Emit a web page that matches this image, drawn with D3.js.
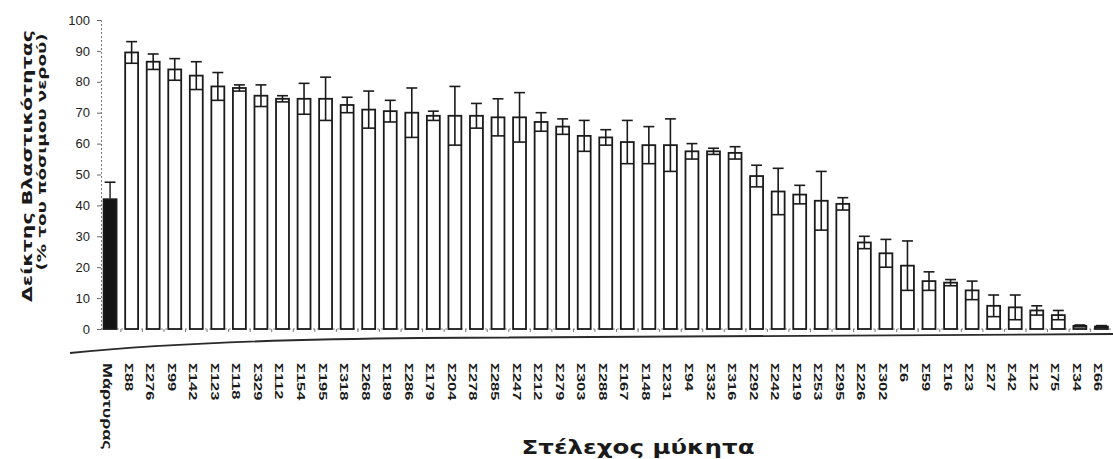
<!DOCTYPE html>
<html>
<head>
<meta charset="utf-8">
<script src="https://cdn.jsdelivr.net/npm/d3@7"></script>
<style>
  html, body { margin: 0; padding: 0; background: #ffffff; }
  svg { display: block; }
</style>
</head>
<body>
<svg id="chart" width="1113" height="459"></svg>
<script>
// Strains (control first), mean germination index and its error
const strains = ["Μάρτυρας","Σ88","Σ276","Σ99","Σ142","Σ123","Σ118","Σ329","Σ112","Σ154","Σ195",
  "Σ318","Σ268","Σ189","Σ286","Σ179","Σ204","Σ278","Σ285","Σ247","Σ212","Σ279","Σ303","Σ288",
  "Σ167","Σ148","Σ231","Σ94","Σ332","Σ316","Σ292","Σ242","Σ219","Σ253","Σ295","Σ226","Σ302",
  "Σ6","Σ59","Σ16","Σ23","Σ27","Σ42","Σ12","Σ75","Σ34","Σ66"];
const meanValues = [42,89.5,86.5,84,82,78.5,78,75.5,74.5,74.5,74.5,
  72.5,71,70.5,70,69,69,69,68.5,68.5,67,65.5,62.5,62,
  60.5,59.5,59.5,57.5,57.5,57,49.5,44.5,43.5,41.5,40.5,28,24.5,
  20.5,15.5,15,12.5,7.5,7,6,4.5,1,0.8];
const errorValues = [5.5,3.5,2.5,3.5,4.5,4.5,1,3.5,1,5,7,
  2.5,6,3.5,8,1.5,9.5,4,6,8,3,2.5,5,2.5,
  7,6,8.5,2.5,1,2,3.5,7.5,3,9.5,2,2,4.5,
  8,3,1,3,3.5,4,1.5,1.5,0.3,0.3];
const yTicks = [0,10,20,30,40,50,60,70,80,90,100];

const svg = d3.select("#chart");
const ink = "#1b1b1b";

const x = d3.scaleBand().domain(strains).range([95, 1116.5]).padding(0.4);
const y = d3.scaleLinear().domain([0, 100]).range([329, 20]);

const rows = strains.map((s, i) => ({ name: s, mean: meanValues[i], err: errorValues[i], control: i === 0 }));

// y axis
const yAxis = d3.axisLeft(y).tickValues(yTicks).tickSize(4).tickPadding(7);
const gy = svg.append("g").attr("transform", "translate(101,0)").call(yAxis);
gy.select(".domain").attr("stroke", "#777").attr("stroke-dasharray", "2,2");
gy.selectAll(".tick line").attr("stroke", "#666");
gy.selectAll(".tick text").attr("fill", "#222")
  .style("font-family", "'Liberation Sans', Arial, sans-serif").style("font-size", "13px");

// x axis at the zero line with ticks between bars
const bandEdges = strains.slice(1).map(s => x(s) - x.step() * x.paddingInner() / 2);
svg.append("line").attr("x1", 101).attr("x2", 1113).attr("y1", y(0)).attr("y2", y(0))
  .attr("stroke", "#888").attr("stroke-dasharray", "2,2");
svg.append("g").selectAll("line").data(bandEdges).join("line")
  .attr("x1", d => d).attr("x2", d => d).attr("y1", y(0)).attr("y2", y(0) + 3)
  .attr("stroke", "#777").attr("stroke-width", 1);

// bars
const bars = svg.append("g");
bars.selectAll("rect").data(rows).join("rect")
  .attr("x", d => x(d.name))
  .attr("width", x.bandwidth())
  .attr("y", d => y(d.mean))
  .attr("height", d => y(0) - y(d.mean))
  .attr("fill", d => d.control ? "#141414" : "#ffffff")
  .attr("stroke", ink).attr("stroke-width", 1.8);

// error bars: stem, top cap, and a line at mean - error inside the bar
const err = svg.append("g").attr("stroke", ink).attr("stroke-width", 1.6);
err.selectAll("line.stem").data(rows).join("line").attr("class", "stem")
  .attr("x1", d => x(d.name) + x.bandwidth() / 2).attr("x2", d => x(d.name) + x.bandwidth() / 2)
  .attr("y1", d => d.control ? y(d.mean) : y(Math.max(0, d.mean - d.err)))
  .attr("y2", d => y(d.mean + d.err))
  .attr("stroke", d => d.control ? "#333" : ink);
err.selectAll("line.cap").data(rows).join("line").attr("class", "cap")
  .attr("x1", d => x(d.name) + 1).attr("x2", d => x(d.name) + x.bandwidth() - 1)
  .attr("y1", d => y(d.mean + d.err)).attr("y2", d => y(d.mean + d.err));
err.selectAll("line.low").data(rows.filter(d => !d.control)).join("line").attr("class", "low")
  .attr("x1", d => x(d.name)).attr("x2", d => x(d.name) + x.bandwidth())
  .attr("y1", d => y(Math.max(0, d.mean - d.err))).attr("y2", d => y(Math.max(0, d.mean - d.err)));

// lower rule under the axis
svg.append("path")
  .attr("d", "M70,353 Q200,340 420,338 L1113,334")
  .attr("fill", "none").attr("stroke", "#2a2a2a").attr("stroke-width", 1.8);

// category labels, rotated to read downwards
svg.append("g").selectAll("text").data(rows).join("text")
  .attr("transform", d => `translate(${x(d.name) + x.bandwidth() / 2 - 7},363) rotate(90) scale(1.5,1)`)
  .attr("text-anchor", "start")
  .attr("fill", "#1a1a1a")
  .style("font-family", "'Liberation Sans', Arial, sans-serif")
  .style("font-weight", "bold")
  .style("font-size", d => d.control ? "12px" : "11px")
  .text(d => d.name);

// axis titles
svg.append("text")
  .attr("transform", "translate(32,166) rotate(-90)")
  .attr("text-anchor", "middle")
  .attr("textLength", 272).attr("lengthAdjust", "spacingAndGlyphs")
  .attr("fill", "#1a1a1a")
  .style("font-family", "'DejaVu Sans', sans-serif").style("font-weight", "bold").style("font-size", "14px")
  .text("Δείκτης Βλαστικότητας");
svg.append("text")
  .attr("transform", "translate(46,152) rotate(-90)")
  .attr("text-anchor", "middle")
  .attr("textLength", 237).attr("lengthAdjust", "spacingAndGlyphs")
  .attr("fill", "#1a1a1a")
  .style("font-family", "'DejaVu Sans', sans-serif").style("font-weight", "bold").style("font-size", "13px")
  .text("(% του πόσιμου νερού)");
svg.append("text")
  .attr("x", 638).attr("y", 454)
  .attr("text-anchor", "middle")
  .attr("textLength", 233).attr("lengthAdjust", "spacingAndGlyphs")
  .attr("fill", "#1a1a1a")
  .style("font-family", "'DejaVu Sans', sans-serif").style("font-weight", "bold").style("font-size", "19px")
  .text("Στέλεχος μύκητα");
</script>
</body>
</html>
